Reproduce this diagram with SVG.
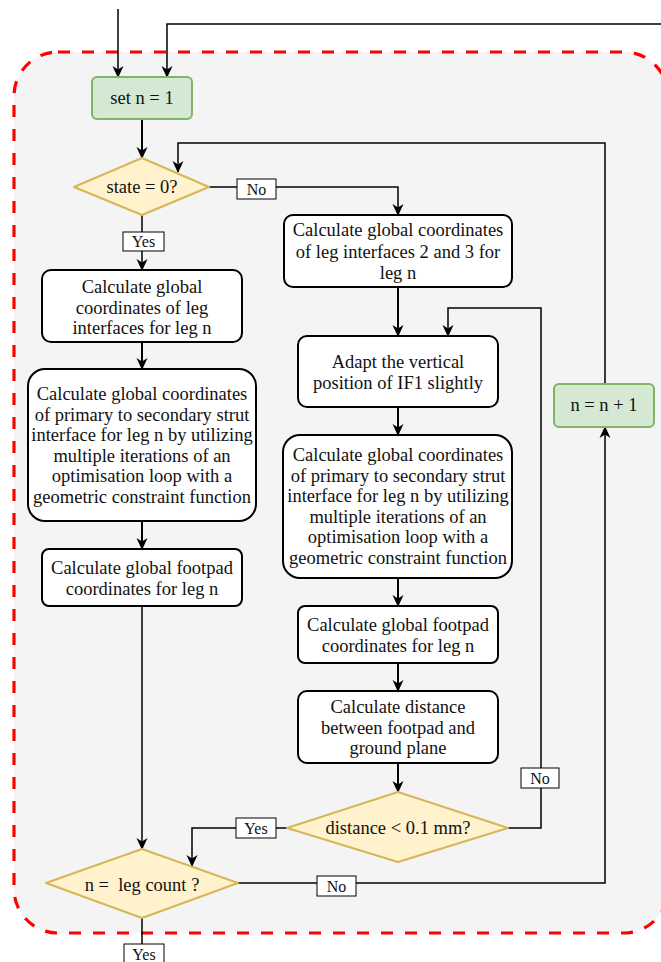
<svg xmlns="http://www.w3.org/2000/svg" width="661" height="962" viewBox="0 0 661 962">
<style>
.box{fill:#fff;stroke:#000;stroke-width:2}
.green{fill:#d5e8d4;stroke:#82b366;stroke-width:2}
.dia{fill:#fff2cc;stroke:#d6b656;stroke-width:2;stroke-linejoin:round}
.t{font-family:"Liberation Serif","Times New Roman",serif;font-size:18.5px;fill:#111;text-anchor:middle}
.lbl{fill:#fff;stroke:#000;stroke-width:1}
.lt{font-family:"Liberation Serif","Times New Roman",serif;font-size:16px;fill:#111;text-anchor:middle}
.c{fill:none;stroke:#000;stroke-width:1.5;marker-end:url(#ah)}
.cn{fill:none;stroke:#000;stroke-width:1.5}
.ct{fill:none;stroke:#000;stroke-width:2;marker-end:url(#ah)}
</style>
<defs>
<marker id="ah" markerUnits="userSpaceOnUse" markerWidth="12" markerHeight="12" viewBox="0 0 12 12" refX="11" refY="6" orient="auto">
<path d="M0,0.5 L12,6 L0,11.5 L3.5,6 z" fill="#000"/>
</marker>
</defs>
<rect x="0" y="0" width="661" height="962" fill="#fff"/>
<g id="container">
<rect x="14" y="52" width="654" height="881" rx="44" ry="44" fill="#f4f4f4" stroke="#ff0000" stroke-width="3.2" stroke-dasharray="12 12"/>
</g>
<g id="connectors">
<path class="c" d="M118,9 V77"/>
<path class="c" d="M661,24 H167 V77"/>
<path class="ct" d="M142,119 V158"/>
<path class="c" d="M209,187 H398 V215"/>
<path class="c" d="M142,215 V270"/>
<path class="ct" d="M142,342 V369"/>
<path class="ct" d="M142,521 V549"/>
<path class="c" d="M142,606 V849"/>
<path class="cn" d="M142,918 V962"/>
<path class="c" d="M238,883 H605 V427"/>
<path class="c" d="M605,384 V143 H178 V172"/>
<path class="ct" d="M398,287 V336"/>
<path class="ct" d="M398,407 V435"/>
<path class="ct" d="M398,578 V606"/>
<path class="ct" d="M398,663 V691"/>
<path class="ct" d="M398,763 V792"/>
<path class="c" d="M508,828 H541 V308 H448 V336"/>
<path class="c" d="M287,828 H192 V866"/>
<g id="labels">
<rect class="lbl" x="237" y="179" width="39" height="20"/><text class="lt" x="256.5" y="194.5">No</text>
<rect class="lbl" x="123" y="232" width="41" height="19"/><text class="lt" x="143.5" y="247">Yes</text>
<rect class="lbl" x="317" y="876" width="39" height="20"/><text class="lt" x="336.5" y="891.5">No</text>
<rect class="lbl" x="521" y="768" width="38" height="20"/><text class="lt" x="540" y="783.5">No</text>
<rect class="lbl" x="236" y="818" width="40" height="20"/><text class="lt" x="256" y="833.5">Yes</text>
<rect class="lbl" x="124" y="944" width="40" height="20"/><text class="lt" x="144" y="959.5">Yes</text>
</g>
</g>
<g id="set_n">
<rect class="green" x="92" y="77" width="100" height="42" rx="5"/>
<text class="t" x="142" y="104">set n = 1</text>
</g>
<g id="state_check">
<polygon class="dia" points="142,158 209,187 142,215 74,187"/>
<text class="t" x="142" y="193">state = 0?</text>
</g>
<g id="left_interfaces">
<rect class="box" x="42" y="270" width="200" height="72" rx="9"/>
<text class="t" x="142" y="293">Calculate global</text>
<text class="t" x="142" y="313.7">coordinates of leg</text>
<text class="t" x="142" y="334.4">interfaces for leg n</text>
</g>
<g id="left_strut">
<rect class="box" x="28" y="369" width="228" height="152" rx="17"/>
<text class="t" x="142" y="400">Calculate global coordinates</text>
<text class="t" x="142" y="420.6">of primary to secondary strut</text>
<text class="t" x="142" y="441.2">interface for leg n by utilizing</text>
<text class="t" x="142" y="461.8">multiple iterations of an</text>
<text class="t" x="142" y="482.4">optimisation loop with a</text>
<text class="t" x="142" y="503">geometric constraint function</text>
</g>
<g id="left_footpad">
<rect class="box" x="42" y="549" width="200" height="57" rx="7"/>
<text class="t" x="142" y="574">Calculate global footpad</text>
<text class="t" x="142" y="594.7">coordinates for leg n</text>
</g>
<g id="leg_count">
<polygon class="dia" points="142,849 238,883 142,918 46,883"/>
<text class="t" x="142" y="891" style="white-space:pre">n =  leg count ?</text>
</g>
<g id="n_inc">
<rect class="green" x="554" y="384" width="100" height="43" rx="5"/>
<text class="t" x="604" y="411">n = n + 1</text>
</g>
<g id="right_interfaces">
<rect class="box" x="284" y="215" width="228" height="72" rx="9"/>
<text class="t" x="398" y="236">Calculate global coordinates</text>
<text class="t" x="398" y="257.5">of leg interfaces 2 and 3 for</text>
<text class="t" x="398" y="279">leg n</text>
</g>
<g id="adapt">
<rect class="box" x="298" y="336" width="200" height="71" rx="9"/>
<text class="t" x="398" y="368">Adapt the vertical</text>
<text class="t" x="398" y="389">position of IF1 slightly</text>
</g>
<g id="right_strut">
<rect class="box" x="283" y="435" width="229" height="143" rx="17"/>
<text class="t" x="398" y="461">Calculate global coordinates</text>
<text class="t" x="398" y="481.6">of primary to secondary strut</text>
<text class="t" x="398" y="502.2">interface for leg n by utilizing</text>
<text class="t" x="398" y="522.8">multiple iterations of an</text>
<text class="t" x="398" y="543.4">optimisation loop with a</text>
<text class="t" x="398" y="564">geometric constraint function</text>
</g>
<g id="right_footpad">
<rect class="box" x="298" y="606" width="200" height="57" rx="7"/>
<text class="t" x="398" y="631">Calculate global footpad</text>
<text class="t" x="398" y="651.7">coordinates for leg n</text>
</g>
<g id="distance">
<rect class="box" x="298" y="691" width="200" height="72" rx="9"/>
<text class="t" x="398" y="713">Calculate distance</text>
<text class="t" x="398" y="733.7">between footpad and</text>
<text class="t" x="398" y="754.4">ground plane</text>
</g>
<g id="distance_check">
<polygon class="dia" points="398,792 508,828 398,862 287,828"/>
<text class="t" x="398" y="834">distance &lt; 0.1 mm?</text>
</g>
</svg>
